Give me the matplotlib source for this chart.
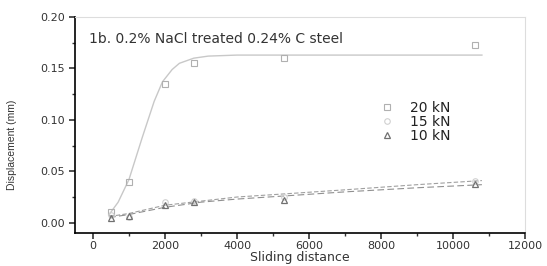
import numpy as np
import matplotlib.pyplot as plt
from matplotlib.ticker import MultipleLocator

plt.rcParams['font.family'] = ['DejaVu Sans']

# measured points
dist = [500, 1000, 2000, 2800, 5300, 10600]
d20 = [0.010, 0.040, 0.135, 0.155, 0.160, 0.173]
d15 = [0.008, 0.006, 0.020, 0.021, 0.025, 0.041]
d10 = [0.005, 0.007, 0.017, 0.020, 0.022, 0.038]

# fitted curves
fit20_x = [450, 700, 1000, 1370, 1700, 1930, 2200, 2400, 2800, 3200, 4000, 6000, 10800]
fit20_y = [0.008, 0.020, 0.042, 0.083, 0.118, 0.137, 0.149, 0.155, 0.160, 0.162, 0.163, 0.163, 0.163]
fit15_x = [450, 1000, 2000, 3000, 4000, 5300, 7000, 9000, 10800]
fit15_y = [0.006, 0.009, 0.017, 0.021, 0.025, 0.028, 0.032, 0.037, 0.041]
fit10_x = [450, 1000, 2000, 3000, 4000, 5300, 7000, 9000, 10800]
fit10_y = [0.005, 0.008, 0.015, 0.020, 0.023, 0.026, 0.030, 0.034, 0.037]

fig = plt.figure(figsize=(5.47, 2.66), dpi=100)
ax = fig.add_axes([0.137, 0.124, 0.823, 0.812])

ax.plot(fit20_x, fit20_y, color='#c8c8c8', lw=1.0)
ax.plot(fit15_x, fit15_y, color='#a0a0a0', lw=0.8, ls=(0, (4, 2)))
ax.plot(fit10_x, fit10_y, color='#909090', lw=0.8, ls=(0, (6, 3)))

ax.plot(dist, d20, ls='none', marker='s', ms=4, mfc='none', mec='#b0b0b0', mew=0.8, label='20 kN')
ax.plot(dist, d15, ls='none', marker='o', ms=4, mfc='none', mec='#d0d0d0', mew=0.8, label='15 kN')
ax.plot(dist, d10, ls='none', marker='^', ms=5, mfc='none', mec='#707070', mew=0.9, label='10 kN')

ax.set_xlim(-500, 12000)
ax.set_ylim(-0.01, 0.20)
ax.xaxis.set_major_locator(MultipleLocator(2000))
ax.xaxis.set_minor_locator(MultipleLocator(1000))
ax.yaxis.set_major_locator(MultipleLocator(0.05))
ax.yaxis.set_minor_locator(MultipleLocator(0.025))
ax.yaxis.set_major_formatter(plt.FuncFormatter(lambda v, p: '%.2f' % v))

for s in ['top', 'right']:
    ax.spines[s].set_color('#dddddd')
for s in ['left', 'bottom']:
    ax.spines[s].set_linewidth(1.2)
ax.tick_params(which='both', direction='out', labelsize=8, colors='#333333')
ax.tick_params(which='major', length=4, width=1.2)
ax.tick_params(axis='x', which='major', pad=2)
ax.tick_params(which='minor', length=2.5, width=1.0)

ax.set_xlabel('Sliding distance', fontsize=9, color='#333333')
ax.xaxis.set_label_coords(0.5, -0.085)
ax.set_ylabel('Displacement (mm)', fontsize=7.5, color='#333333',
              family='Liberation Sans')
ax.yaxis.set_label_coords(-0.129, 0.407)
ax.text(0.032, 0.93, '1b. 0.2% NaCl treated 0.24% C steel', transform=ax.transAxes,
        fontsize=10, color='#333333', va='top')

leg = ax.legend(loc='upper left', bbox_to_anchor=(0.662, 0.645), frameon=False,
                fontsize=10, handlelength=1.0, handletextpad=1.2, labelspacing=0.0,
                borderpad=0)
for t in leg.get_texts():
    t.set_color('#222222')

fig.savefig('out.png', dpi=100)
